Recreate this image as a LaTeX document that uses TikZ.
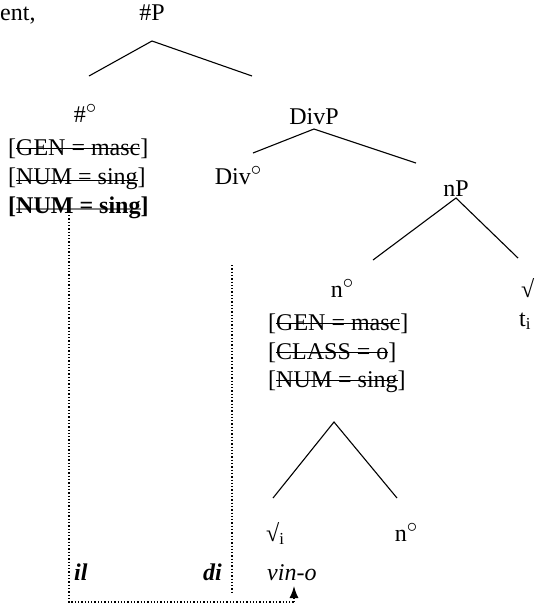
\documentclass[tikz,border=0pt]{standalone}
\usepackage{fontspec}
\setmainfont{Liberation Serif}
\usetikzlibrary{arrows.meta}
\newsavebox\strkbox
\newcommand\strk[2][0.55ex]{\sbox\strkbox{#2}\rlap{\rule[#1]{\wd\strkbox}{1.1pt}}\usebox\strkbox}
\newcommand\strkgray[2][0.3ex]{\sbox\strkbox{#2}\rlap{\textcolor{gray}{\rule[#1]{\wd\strkbox}{1.3pt}}}\usebox\strkbox}
\newcommand\dg{\raisebox{0.8ex}{\fontsize{20}{20}\selectfont$\circ$}}
\begin{document}
\begin{tikzpicture}[x=1pt,y=-1pt,
  font=\fontsize{24}{29}\selectfont,
  lab/.style={inner sep=0pt,anchor=base},
  labw/.style={inner sep=0pt,anchor=base west},
  branch/.style={line width=1.1pt},
  dots/.style={dotted,line width=1.3pt}]
\useasboundingbox (0,0) rectangle (535,606);
% top
\node[labw] (ent) at (0,20) {ent,};
\node[lab] (hP) at (152,20) {\#P};
\coordinate (hPa) at (152,41);
\coordinate (hPl) at (89,76);
\coordinate (hPr) at (252,76);
\draw[branch] (hPl) -- (hPa) -- (hPr);
% #0 column
\node[lab] (h0) at (85,122) {\#\dg};
\node[labw] (f1) at (8,155) {[\strk{GEN = masc}]};
\node[labw] (f2) at (8,184) {[\strk[0.3ex]{NUM = sing}]};
\node[labw] (f3) at (8,213) {\textbf{[\strkgray{NUM = sing}]}};
% DivP
\node[lab] (div0) at (238,184) {Div\dg};
\node[lab] (divP) at (314,124) {DivP};
\coordinate (dPa) at (314,129);
\coordinate (dPl) at (253,153);
\coordinate (dPr) at (416,163);
\draw[branch] (dPl) -- (dPa) -- (dPr);
% nP
\node[lab] (nP) at (456,196) {nP};
\coordinate (nPa) at (456,198);
\coordinate (nPl) at (373,260);
\coordinate (nPr) at (518,258);
\draw[branch] (nPl) -- (nPa) -- (nPr);
\node[lab] (n0) at (342,297) {n\dg};
\node[labw] (rt) at (521,297) {√};
\node[labw] (ti) at (519,326) {t\textsubscript{i}};
\node[labw] (g1) at (268,330) {[\strk{GEN = masc}]};
\node[labw] (g2) at (268,359) {[\strk{CLASS = o}]};
\node[labw] (g3) at (268,387) {[\strk{NUM = sing}]};
% lower tree
\coordinate (la) at (334,422);
\coordinate (ll) at (273,498);
\coordinate (lr) at (397,498);
\draw[branch] (ll) -- (la) -- (lr);
\node[labw] (sqi) at (266,541) {√\textsubscript{i}};
\node[lab] (n1) at (406,541) {n\dg};
% words
\node[labw] (il) at (74,580) {\textbf{\textit{il}}};
\node[labw] (di) at (203,580) {\textbf{\textit{di}}};
\node[labw] (vino) at (267,580) {\textit{vin-o}};
% dotted lines
\coordinate (d1t) at (69,215);
\coordinate (d1b) at (69,602);
\coordinate (d2t) at (232,265);
\coordinate (d2b) at (232,594);
\coordinate (ac) at (294,602);
\coordinate (at) at (294,586);
\draw[dots] (d1t) -- (d1b) -- (ac);
\draw[dots] (d2t) -- (d2b);
\draw[dots,-{Latex[length=12pt,width=9pt]}] (ac) -- (at);
\end{tikzpicture}
\end{document}
